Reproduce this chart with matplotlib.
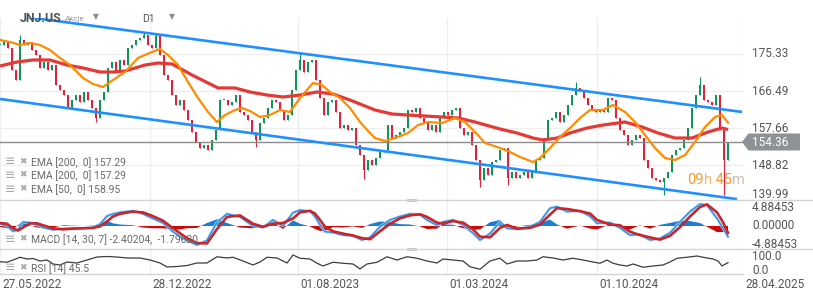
import numpy as np
import matplotlib
matplotlib.use('Agg')
import matplotlib.pyplot as plt
from matplotlib.lines import Line2D
from matplotlib.patches import Polygon, Rectangle
import matplotlib.patheffects as pe

# ---------------- data ----------------
# daily closes sampled every 4 trading days (index * 4 = trading day)
closes = [
    177.5, 178.2, 176.8, 171.5, 169.1, 178.7, 177.5, 178.2, 176.3, 175.1,
    172.0, 173.4, 171.5, 172.7, 167.9, 166.7, 165.5, 162.4, 164.4, 165.5,
    163.9, 166.3, 164.4, 162.4, 160.1, 164.4, 166.3, 172.0, 173.4, 171.0,
    173.9, 172.7, 176.8, 177.5, 178.7, 179.1, 179.9, 177.5, 176.8, 179.6,
    175.1, 170.3, 169.1, 165.5, 163.2, 164.4, 162.0, 159.6, 156.7, 154.3,
    152.9, 153.6, 152.4, 154.8, 157.2, 164.4, 164.4, 163.2, 163.9, 165.5,
    161.5, 160.8, 159.6, 156.7, 154.8, 158.9, 160.1, 162.4, 164.4, 163.9,
    162.0, 159.6, 160.8, 166.7, 171.5, 173.9, 171.0, 173.4, 173.9, 169.1,
    164.8, 160.8, 163.9, 164.4, 161.5, 157.7, 158.4, 157.2, 157.7, 153.6,
    151.2, 147.6, 150.0, 148.8, 150.5, 151.9, 152.4, 158.4, 155.3, 156.0,
    156.7, 157.7, 162.0, 161.5, 162.4, 160.1, 159.1, 157.2, 158.4, 156.7,
    160.1, 161.5, 160.8, 162.0, 162.4, 157.7, 156.0, 156.7, 153.6, 150.0,
    145.3, 148.1, 146.5, 149.6, 150.0, 152.4, 152.9, 145.7, 147.2, 145.7,
    146.5, 147.2, 145.7, 147.2, 150.0, 150.5, 155.3, 159.6, 160.1, 161.5,
    159.1, 160.8, 163.2, 165.5, 167.2, 166.7, 164.8, 163.2, 162.0, 161.5,
    162.0, 161.5, 164.8, 164.4, 160.1, 157.2, 156.0, 153.6, 154.8, 156.0,
    155.3, 150.0, 148.1, 145.7, 145.3, 144.8, 145.7, 147.2, 151.2, 152.4,
    152.9, 154.8, 157.7, 162.4, 165.5, 167.9, 164.4, 163.9, 163.2, 165.5,
    157.2, 150.0, 154.36,
]
step = 4
high_spikes = {5: 179.9, 36: 180.5, 39: 180.3, 75: 175.9, 144: 168.6, 175: 169.8}
low_spikes = {24: 159.0, 64: 153.2, 91: 145.5, 120: 143.6, 127: 144.1, 166: 141.7, 181: 141.7}

ema200_x = [0, 17, 33, 50, 67, 83, 100, 113, 125, 145, 158, 172, 192, 208, 218, 235, 250, 267,
            283, 300, 317, 333, 350, 375, 392, 408, 425, 442, 458, 475, 500, 517, 533, 543, 557,
            570, 587, 603, 625, 642, 658, 675, 692, 708, 722, 728]
ema200_v = [172.47, 173.42, 173.90, 173.90, 172.70, 171.99, 171.03, 171.03, 171.27, 172.70,
            173.18, 172.94, 170.32, 168.41, 167.22, 167.22, 166.26, 165.54, 165.07, 165.54,
            166.26, 165.78, 164.35, 161.96, 161.01, 160.77, 160.53, 160.30, 160.06, 159.10,
            157.43, 156.48, 155.28, 154.80, 155.28, 156.48, 157.67, 158.38, 159.10, 157.91,
            156.48, 155.28, 155.28, 156.71, 157.67, 157.29]

ema50_x = [0, 10, 20, 30, 40, 50, 60, 70, 83, 93, 103, 113, 125, 138, 152, 160, 168, 178, 188,
           198, 208, 217, 225, 235, 242, 250, 260, 270, 280, 290, 300, 313, 322, 330, 340, 350,
           360, 370, 375, 385, 395, 408, 418, 428, 442, 455, 465, 475, 485, 500, 510, 520, 533,
           540, 550, 560, 570, 580, 590, 603, 613, 625, 635, 645, 655, 665, 675, 685, 695, 705,
           715, 722, 728]
ema50_v = [178.67, 178.19, 177.48, 177.96, 177.48, 176.28, 174.38, 172.70, 169.60, 168.17,
           167.45, 169.12, 171.03, 174.38, 175.81, 176.52, 175.09, 172.70, 168.65, 164.83,
           161.49, 159.10, 160.77, 161.96, 162.44, 161.73, 160.30, 160.77, 161.96, 161.49,
           164.83, 168.41, 167.93, 166.26, 164.83, 162.44, 159.10, 156.48, 155.28, 154.57,
           155.28, 156.48, 158.38, 159.10, 158.86, 160.06, 159.10, 156.71, 154.09, 152.90,
           151.94, 150.75, 149.55, 150.51, 152.90, 155.52, 157.67, 160.06, 161.96, 161.96,
           163.16, 161.49, 159.10, 156.00, 152.90, 150.51, 150.03, 151.22, 154.33, 157.91,
           160.30, 160.77, 158.95]

channel_upper = [(0, 185.0), (742, 161.5)]
channel_lower = [(0, 164.6), (737, 140.7)]

macd_x = [0, 7, 13, 18, 23, 30, 37, 43, 53, 63, 73, 83, 93, 100, 107, 113, 120, 133, 143, 153,
          163, 173, 180, 187, 197, 207, 217, 227, 240, 253, 263, 273, 283, 293, 300, 310, 315,
          320, 325, 333, 343, 353, 362, 370, 380, 390, 400, 410, 420, 427, 437, 443, 453, 463,
          473, 480, 490, 500, 507, 517, 530, 540, 550, 557, 567, 580, 590, 597, 610, 620, 630,
          640, 650, 660, 670, 680, 690, 700, 707, 717, 723, 728]
macd_v = [0.6, 0.0, -1.4, -1.0, 1.0, 0.9, 0.3, -0.4, -1.0, -0.7, -0.6, -0.6, -0.4, 0.5, 2.6,
          3.2, 3.6, 4.0, 3.2, 2.0, 0.8, -1.5, -2.8, -3.8, -5.0, -3.8, 1.0, 3.2, 2.4, 0.0, -0.4,
          1.6, 0.0, 3.5, 4.2, 3.9, 2.5, 0.3, -1.5, -1.7, -2.4, -2.6, -3.7, -3.0, -0.2, 1.6, 2.5,
          3.2, 3.0, 1.6, 0.2, 1.1, 1.6, 0.3, -1.9, -3.7, -2.0, 1.1, -0.6, -0.8, -0.2, 1.1, 4.7,
          5.1, 3.8, 4.0, 2.6, 0.7, 0.9, -0.5, -2.4, -2.2, -3.7, -3.3, -1.8, 1.1, 3.8, 5.8, 5.5,
          2.0, -0.6, -2.8]
signal_v = [0.8, 0.6, -0.6, -1.2, -0.4, 0.7, 0.7, 0.2, -0.6, -0.9, -0.7, -0.6, -0.5, -0.1, 1.2,
            2.5, 3.2, 3.8, 3.6, 2.6, 1.4, -0.6, -1.9, -3.2, -4.5, -4.6, -0.8, 2.4, 2.8, 0.6, -0.2,
            0.6, 0.8, 2.0, 3.6, 4.0, 3.3, 1.6, -0.2, -1.4, -2.0, -2.5, -3.2, -3.5, -1.4, 0.6, 2.0,
            2.8, 3.1, 2.4, 0.9, 0.6, 1.3, 0.9, -0.9, -2.8, -3.0, -0.5, 0.3, -0.7, -0.5, 0.4, 3.0,
            4.7, 4.5, 3.9, 3.3, 1.6, 0.4, 0.2, -1.5, -2.4, -3.0, -3.6, -2.6, -0.3, 2.5, 5.0, 5.7,
            3.6, 1.0, -1.8]

rsi_x = [0, 7, 13, 20, 27, 33, 40, 47, 53, 60, 67, 77, 87, 97, 107, 117, 127, 140, 150, 160,
         167, 177, 187, 197, 207, 217, 227, 233, 243, 253, 260, 267, 277, 287, 293, 300, 310,
         317, 323, 333, 343, 353, 360, 367, 377, 387, 397, 407, 417, 427, 437, 443, 453, 463,
         470, 480, 490, 500, 507, 517, 527, 537, 543, 553, 563, 573, 583, 593, 600, 607, 613,
         620, 627, 633, 643, 653, 663, 670, 677, 687, 697, 703, 713, 718, 722, 728]
rsi_v = [49, 47, 56, 67, 60, 62, 52, 56, 40, 36, 48, 44, 56, 68, 70, 68, 64, 64, 56, 44,
         28, 30, 34, 44, 44, 69, 64, 67, 52, 36, 48, 67, 64, 44, 76, 63, 60,
         43, 32, 47, 43, 40, 20, 40, 47, 69, 56, 69, 63, 52, 44, 60, 56, 52,
         29, 19, 52, 63, 40, 52, 52, 56, 69, 64, 56, 63, 56, 48, 43, 56, 43,
         36, 32, 40, 27, 32, 36, 48, 63, 67, 72, 67, 60, 52, 32, 45.5]

price_ticks = [175.33, 166.49, 157.66, 148.82, 139.99]
last_price = 154.36
macd_ticks = [4.88453, 0.0, -4.88453]
date_pos = [0, 150, 298, 447, 597, 743]
date_labels = ['27.05.2022', '28.12.2022', '01.08.2023', '01.03.2024', '01.10.2024', '28.04.2025']

legend_lines = ['EMA [200,  0] 157.29', 'EMA [200,  0] 157.29', 'EMA [50,  0] 158.95']
macd_legend = 'MACD [14, 30, 7] -2.40204,  -1.79620'
rsi_legend = 'RSI [14] 45.5'

# ---------------- figure ----------------
W, H = 813, 300
plt.rcParams['font.family'] = ['Roboto', 'DejaVu Sans']
fig = plt.figure(figsize=(W / 100, H / 100), dpi=100)
fig.patch.set_facecolor('white')


def axes_px(x0, y0, x1, y1):
    ax = fig.add_axes([x0 / W, 1 - y1 / H, (x1 - x0) / W, (y1 - y0) / H])
    ax.set_axis_off()
    return ax


def fx(x):
    return x / W


def fy(y):
    return 1 - y / H


GRID = '#eeeeee'
TXT = '#555555'

# main panel
ax = axes_px(0, 18, 743, 200)
ax.set_xlim(0, 743)
ax.set_ylim(140.49, 183.92)
for p in price_ticks:
    ax.axhline(p, color=GRID, lw=0.9, zorder=0)
for d in date_pos:
    ax.axvline(d, color=GRID, lw=0.9, zorder=0)

c = np.array(closes)
o = np.r_[c[0], c[:-1]]
xs = np.arange(len(c)) * step
hi = np.maximum(o, c)
lo = np.minimum(o, c)
for i, v in high_spikes.items():
    hi[i] = max(hi[i], v)
for i, v in low_spikes.items():
    lo[i] = min(lo[i], v)
cols = np.where(c >= o, '#11935a', '#e2203a')
ax.vlines(xs, lo, hi, colors=cols, lw=0.8, zorder=2)
ax.bar(xs, np.where(np.abs(c - o) < 0.15, 0.15, c - o), bottom=o, width=2.1,
       color=cols, linewidth=0, zorder=2)

ax.axhline(last_price, color='#8c8c8c', lw=1.0, zorder=3)

ax.plot(ema200_x, ema200_v, color='#e53935', lw=2.3, zorder=4, solid_capstyle='butt')
ax.plot(ema50_x, ema50_v, color='#ff8c00', lw=1.6, zorder=5)
for ch in (channel_upper, channel_lower):
    ax.plot([ch[0][0], ch[1][0]], [ch[0][1], ch[1][1]], color='#1e90ff', lw=1.9, zorder=6,
            solid_capstyle='butt')

# MACD panel
ax2 = axes_px(0, 200, 743, 249)
ax2.set_xlim(0, 743)
ax2.set_ylim(-6.07, 6.86)
for d in date_pos:
    ax2.axvline(d, color=GRID, lw=0.9, zorder=0)
mx = np.array(macd_x)
mv = np.array(macd_v)
sv = np.array(signal_v)
hist = mv - sv
ax2.fill_between(mx, 0, hist, where=hist >= 0, interpolate=True, color='#1b7fd1', lw=0, zorder=2)
ax2.fill_between(mx, 0, hist, where=hist < 0, interpolate=True, color='#cc0a0a', lw=0, zorder=2)
ax2.plot(mx, mv, color='#2f8ee0', lw=1.0, zorder=3,
         path_effects=[pe.Stroke(linewidth=2.0, foreground='#a8d3f5'), pe.Normal()])
ax2.plot(mx, sv, color='#e0232a', lw=1.0, zorder=4,
         path_effects=[pe.Stroke(linewidth=1.8, foreground='#b51a1a'), pe.Normal()])

# RSI panel
ax3 = axes_px(0, 249, 743, 274)
ax3.set_xlim(0, 743)
ax3.set_ylim(0, 100)
for d in date_pos:
    ax3.axvline(d, color=GRID, lw=0.9, zorder=0)
ax3.plot(rsi_x, rsi_v, color='#3c3c3c', lw=0.9, zorder=3)

# separators
for y, x1 in [(200, 813), (249, 813), (274, 743)]:
    fig.add_artist(Line2D([0, fx(x1)], [fy(y), fy(y)], color='#d4d4d4', lw=1.0))
for y in (200.5, 249.5):
    fig.add_artist(Rectangle((fx(407), fy(y + 1.5)), 10 / W, 3 / H, color='#c6c6c6', lw=0))

# right axis labels
for p in price_ticks:
    ypx = ax.transData.transform((0, p))[1]
    ypx = H - ypx
    ypx = min(ypx, 195)
    fig.text(fx(752), fy(ypx), f'{p:.2f}', fontsize=8.5, color=TXT, va='center', ha='left')
for v in macd_ticks:
    ypx = H - ax2.transData.transform((0, v))[1]
    fig.text(fx(752), fy(ypx), f'{v:.5f}', fontsize=8.5, color=TXT, va='center', ha='left')
fig.text(fx(752), fy(257), '100.0', fontsize=8.5, color=TXT, va='center', ha='left')
fig.text(fx(752), fy(270), '0.0', fontsize=8.5, color=TXT, va='center', ha='left')

# last price tag
tag = Polygon([(fx(742), fy(142)), (fx(748.5), fy(133.5)), (fx(800), fy(133.5)),
               (fx(800), fy(150.5)), (fx(748.5), fy(150.5))], closed=True,
              color='#8d9297', lw=0)
fig.add_artist(tag)
fig.text(fx(752), fy(142.3), f'{last_price:.2f}', fontsize=8.5, color='white', va='center', ha='left')

# dates
for d, lab in zip(date_pos, date_labels):
    fig.text(fx(d + 2), fy(285), lab, fontsize=8.5, color=TXT, va='center', ha='left')

# header
fig.text(fx(20), fy(18), 'JNJ.US', fontsize=8.8, fontweight='bold', color='#505050', va='center')
fig.text(fx(65), fy(19.5), 'Akcje', fontsize=5.8, color='#9a9a9a', va='center')
fig.text(fx(93), fy(16.5), '▼', fontsize=5.5, color='#8a8a8a', va='center', family='DejaVu Sans')
fig.text(fx(142), fy(19), 'D1', fontsize=7.5, color='#555555', va='center')
fig.text(fx(169), fy(16.5), '▼', fontsize=5.5, color='#8a8a8a', va='center', family='DejaVu Sans')

# legends
def legend_row(y, text):
    fig.text(fx(5), fy(y), '≡', fontsize=9, color='#a8a8a8', va='center', family='DejaVu Sans')
    fig.text(fx(19), fy(y - 0.5), '✖', fontsize=6.5, color='#a8a8a8', va='center', family='DejaVu Sans')
    fig.text(fx(31), fy(y + 0.5), text, fontsize=7.5, color='#6a6a6a', va='center')


for y, t in zip([162, 175.5, 189], legend_lines):
    legend_row(y, t)
legend_row(239, macd_legend)
legend_row(268, rsi_legend)

# countdown
t = ax.annotate('09', xy=(fx(687), fy(180)), xycoords='figure fraction', fontsize=10.5,
                color='#ff9a22', va='center', ha='left', annotation_clip=False)
for s, col in [('h', '#f7b772'), (' 45', '#ff9a22'), ('m', '#c9c0b8')]:
    t = ax.annotate(s, xy=(1, 0), xycoords=t, fontsize=10.5, color=col, va='bottom', ha='left',
                    annotation_clip=False)

fig.savefig('out.png', dpi=100, facecolor='white')
